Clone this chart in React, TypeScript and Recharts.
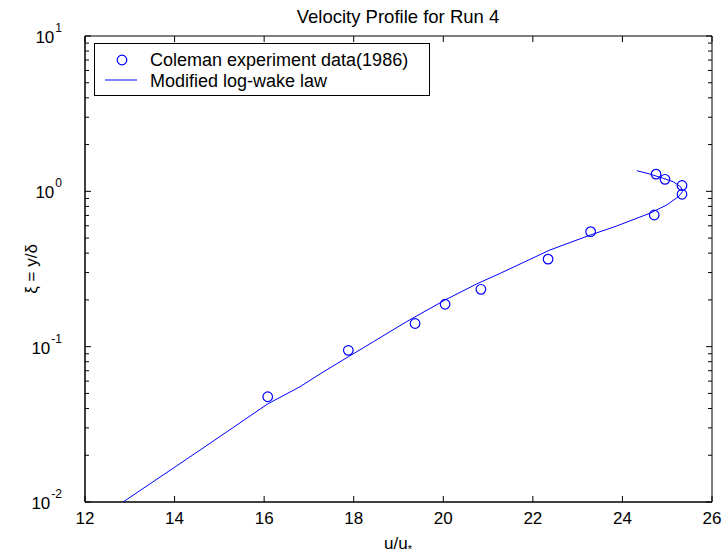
import React from "react";
import { ScatterChart, Scatter, XAxis, YAxis, ReferenceArea } from "recharts";

// Coleman (1986) measurements, run 4
const measuredU = [16.08, 17.88, 19.37, 20.04, 20.84, 22.34, 23.29, 24.71, 25.33, 25.33, 24.95, 24.75];
const measuredXi = [0.0476, 0.0947, 0.141, 0.1875, 0.234, 0.366, 0.55, 0.704, 0.957, 1.09, 1.195, 1.29];

// modified log-wake law curve (bends back above the boundary-layer edge)
const lawU = [
  12.85, 14.57, 15.31, 16.08, 16.8, 17.25, 17.88, 18.44, 19.18, 20.04, 20.74, 21.27,
  22.38, 23.29, 23.87, 24.61, 24.99, 25.25, 25.34, 25.3, 25.13, 24.91, 24.61, 24.32,
];
const lawXi = [
  0.01, 0.0216, 0.0302, 0.0428, 0.0552, 0.0668, 0.0861, 0.1076, 0.1449, 0.1997, 0.253, 0.2965,
  0.419, 0.524, 0.598, 0.722, 0.817, 0.924, 0.9945, 1.071, 1.154, 1.213, 1.293, 1.358,
];

const xTicks = [12, 14, 16, 18, 20, 22, 24, 26];
const yDecades = [0.01, 0.1, 1, 10];
const yTicks = [0.01, 0.1, 1]
  .flatMap((d) => [1, 2, 3, 4, 5, 6, 7, 8, 9].map((k) => +(d * k).toPrecision(3)))
  .concat([10]);

const measured = measuredU.map((u, i) => ({ u, xi: measuredXi[i] }));
const law = lawU.map((u, i) => ({ u, xi: lawXi[i] }));

const W = 726;
const H = 554;
const PLOT_W = 627;
const PLOT_H = 466;
const BLUE = "#0000ff";
const FONT = "'Liberation Sans', Arial, sans-serif";

const isDecade = (v: number) => yDecades.some((d) => Math.abs(d - v) < 1e-9);

const YTick = (props: any) => {
  const { x, y, payload } = props;
  const major = isDecade(payload.value);
  const len = major ? 6 : 4;
  const exp = Math.round(Math.log10(payload.value));
  return (
    <g>
      <line x1={x} x2={x + len} y1={y} y2={y} stroke="#000" strokeWidth={1} />
      <line x1={x + PLOT_W - len} x2={x + PLOT_W} y1={y} y2={y} stroke="#000" strokeWidth={1} />
      {major && (
        <text x={x - 23} y={y + 7} textAnchor="end" fontSize={17} fontFamily={FONT} fill="#000">
          10
          <tspan dx={1} dy={-11} fontSize={12}>{exp}</tspan>
        </text>
      )}
    </g>
  );
};

const XTick = (props: any) => {
  const { x, y, payload } = props;
  return (
    <g>
      <line x1={x} x2={x} y1={y} y2={y - 6} stroke="#000" strokeWidth={1} />
      <line x1={x} x2={x} y1={y - PLOT_H} y2={y - PLOT_H + 6} stroke="#000" strokeWidth={1} />
      <text x={x} y={y + 22} textAnchor="middle" fontSize={17} fontFamily={FONT} fill="#000">
        {payload.value}
      </text>
    </g>
  );
};

const Circle = (props: any) => (
  <circle cx={props.cx} cy={props.cy} r={4.8} fill="none" stroke={BLUE} strokeWidth={1.2} />
);

const LegendBox = () => (
  <svg
    width={336}
    height={53}
    style={{ position: "absolute", left: 94, top: 43, display: "block" }}
  >
    <rect x={0.5} y={0.5} width={335} height={52} fill="#fff" stroke="#000" />
    <circle cx={28} cy={17} r={4.8} fill="none" stroke={BLUE} strokeWidth={1.2} />
    <text x={56} y={23} fontSize={18} fontFamily={FONT} fill="#000">
      Coleman experiment data(1986)
    </text>
    <line x1={11} x2={43} y1={37} y2={37} stroke={BLUE} />
    <text x={56} y={43.5} fontSize={18} fontFamily={FONT} fill="#000">
      Modified log-wake law
    </text>
  </svg>
);

export default function App() {
  return (
    <div style={{ position: "absolute", left: 0, top: 0, width: W, height: H, background: "#fff" }}>
      <ScatterChart width={W} height={H} margin={{ top: 36, right: 14, bottom: 0, left: 0 }}>
        <XAxis
          dataKey="u"
          type="number"
          domain={[12, 26]}
          ticks={xTicks}
          height={52}
          tickLine={false}
          tickSize={0}
          tickMargin={0}
          axisLine={{ stroke: "#000" }}
          tick={<XTick />}
          interval={0}
          allowDataOverflow
        />
        <YAxis
          dataKey="xi"
          type="number"
          scale="log"
          domain={[0.01, 10]}
          ticks={yTicks}
          width={85}
          tickLine={false}
          tickSize={0}
          tickMargin={0}
          axisLine={{ stroke: "#000" }}
          tick={<YTick />}
          interval={0}
          allowDataOverflow
        />
        <ReferenceArea x1={12} x2={26} y1={0.01} y2={10} fill="none" stroke="#000" ifOverflow="visible" />
        <Scatter
          data={law}
          line={{ stroke: BLUE, strokeWidth: 1 }}
          lineType="joint"
          shape={() => <g />}
          isAnimationActive={false}
        />
        <Scatter data={measured} shape={<Circle />} isAnimationActive={false} />
      </ScatterChart>
      <LegendBox />
      <svg width={W} height={H} style={{ position: "absolute", left: 0, top: 0, pointerEvents: "none" }}>
        <text x={398} y={23} textAnchor="middle" fontSize={18.5} fontFamily={FONT} fill="#000">
          Velocity Profile for Run 4
        </text>
        <text x={398} y={549} textAnchor="middle" fontSize={17} fontFamily={FONT} fill="#000">
          u/u
          <tspan fontSize={11} dy={4}>*</tspan>
        </text>
        <text
          x={0}
          y={0}
          transform="translate(37, 269) rotate(-90)"
          textAnchor="middle"
          fontSize={17}
          fontFamily={FONT}
          fill="#000"
        >
          ξ = y/δ
        </text>
      </svg>
    </div>
  );
}
